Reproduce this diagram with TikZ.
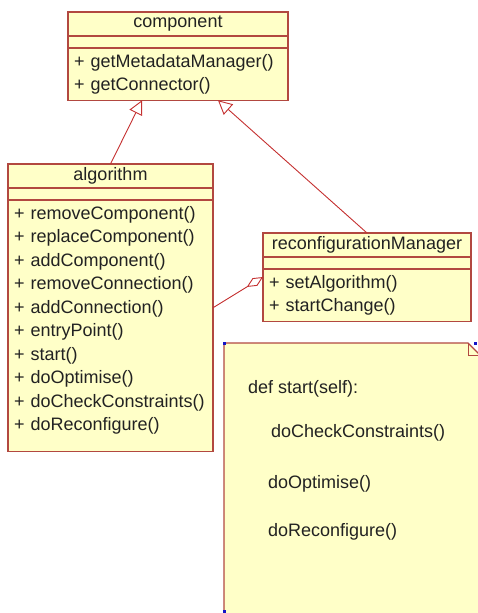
\documentclass[tikz,border=0pt]{standalone}
\usepackage{fontspec}
\setmainfont{Liberation Sans}
\usetikzlibrary{positioning,arrows.meta}
\definecolor{classFill}{RGB}{255,255,200}
\definecolor{classEdge}{RGB}{178,72,64}
\definecolor{linkRed}{RGB}{196,48,48}
\definecolor{textGrey}{RGB}{34,34,34}
\definecolor{handleBlue}{RGB}{20,20,200}
\newcommand\umlfont{\fontsize{18}{23.5}\selectfont}

\begin{document}
\begin{tikzpicture}[
  x=1pt, y=-1pt,
  every node/.append style={outer sep=0pt},
  umlpart/.style={
    draw=classEdge,
    line width=1.1pt,
    fill=classFill,
    text=textGrey,
    font=\umlfont,
  },
  umlname/.style={umlpart, minimum height=24pt, inner sep=0pt},
  umlgap/.style={umlpart, minimum height=12pt, inner sep=0pt},
  umlops/.style={umlpart, align=left, inner xsep=6pt, inner ysep=6pt},
  notetext/.style={text=textGrey, font=\umlfont, anchor=base west, inner sep=0pt},
  inherit/.style={
    draw=linkRed,
    line width=0.9pt,
    -{Triangle[open, length=14pt, width=14pt]},
  },
  aggregate/.style={
    draw=linkRed,
    line width=0.9pt,
    {Diamond[open, length=19pt, width=9pt]}-,
  },
]
\useasboundingbox (0,0) rectangle (477,613);

% component
\node[umlname, minimum width=220pt] (compName) at (178,24) {component};
\node[umlgap, minimum width=220pt, below=0pt of compName] (compGap) {};
\node[umlops, text width=208pt, below=0pt of compGap] (compOps)
  {+ getMetadataManager()\\+ getConnector()};

% algorithm
\node[umlname, minimum width=205pt] (algName) at (110.5,176) {algorithm};
\node[umlgap, minimum width=205pt, below=0pt of algName] (algGap) {};
\node[umlops, text width=193pt, below=0pt of algGap] (algOps)
  {+ removeComponent()\\+ replaceComponent()\\+ addComponent()\\
   + removeConnection()\\+ addConnection()\\+ entryPoint()\\+ start()\\
   + doOptimise()\\+ doCheckConstraints()\\
   + doReconfigure()\rule[-15pt]{0pt}{15pt}};

% reconfigurationManager
\node[umlname, minimum width=208pt] (rcfName) at (367,245) {reconfigurationManager};
\node[umlgap, minimum width=208pt, below=0pt of rcfName] (rcfGap) {};
\node[umlops, text width=196pt, below=0pt of rcfGap] (rcfOps)
  {+ setAlgorithm()\\+ startChange()};

% note
\draw[classEdge, line width=1.1pt, fill=classFill]
  (224,343) -- (468,343) -- (480,355) -- (480,614) -- (224,614) -- cycle;
\draw[classEdge, line width=1pt] (468,343) -- (468,355) -- (480,355);
\fill[handleBlue] (223,342) rectangle (226,345);
\fill[handleBlue] (474,342) rectangle (477,345);
\fill[handleBlue] (223,610) rectangle (226,613);
\node[notetext] (noteDef) at (248,393) {def start(self):};
\node[notetext] (noteCheck) at (271,437) {doCheckConstraints()};
\node[notetext] (noteOpt) at (268,488) {doOptimise()};
\node[notetext] (noteReconf) at (268,536) {doReconfigure()};

% links
\draw[inherit] (algName.north) -- ([xshift=-36pt]compOps.south);
\draw[inherit] (rcfName.north) -- ([xshift=40pt]compOps.south);
\draw[aggregate] ([yshift=-8pt]rcfOps.north west) -- ([yshift=18pt]algOps.east);
\end{tikzpicture}
\end{document}
